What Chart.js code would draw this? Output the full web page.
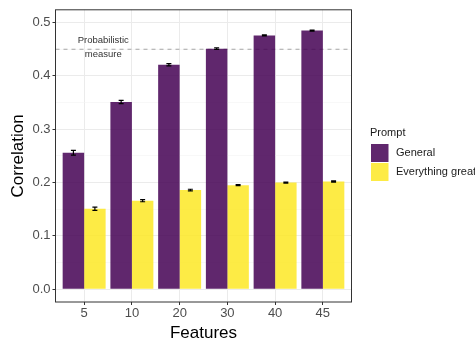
<!DOCTYPE html>
<html>
<head>
<meta charset="utf-8">
<script src="https://cdn.jsdelivr.net/npm/chart.js@4"></script>
<style>
  html, body { margin: 0; padding: 0; background: #fff; }
  #wrap { width: 475px; height: 342px; }
</style>
</head>
<body>
<div id="wrap"><canvas id="chart-canvas" width="475" height="342"></canvas></div>
<script>
const features = ["5", "10", "20", "30", "40", "45"];
const general = [0.256, 0.351, 0.421, 0.451, 0.476, 0.485];
const generalErr = [0.0045, 0.003, 0.002, 0.0015, 0.001, 0.001];
const great = [0.151, 0.166, 0.186, 0.195, 0.200, 0.202];
const greatErr = [0.003, 0.002, 0.0015, 0.001, 0.001, 0.001];
const yTicks = [0, 0.05, 0.1, 0.15, 0.2, 0.25, 0.3, 0.35, 0.4, 0.45, 0.5];
const refLine = 0.45;

const FONT = "'Liberation Sans', Arial, sans-serif";
const purple = "rgba(68,1,84,0.85)";
const yellow = "rgba(253,231,37,0.85)";

const toPoints = (arr) => arr.map((v, i) => ({ x: i + 1, y: v }));

// extras: ref line, error bars, panel border, titles, legend
const extras = {
  id: "extras",
  beforeDatasetsDraw(chart) {
    const { ctx, chartArea: a, scales } = chart;
    const y = scales.y.getPixelForValue(refLine);
    ctx.save();
    ctx.strokeStyle = "#a6a6a6";
    ctx.lineWidth = 1;
    ctx.setLineDash([4, 4]);
    ctx.beginPath();
    ctx.moveTo(a.left, y);
    ctx.lineTo(a.right, y);
    ctx.stroke();
    ctx.restore();
  },
  afterDatasetsDraw(chart) {
    const { ctx, chartArea: a, scales } = chart;
    const errs = [generalErr, greatErr];
    const vals = [general, great];
    ctx.save();
    ctx.strokeStyle = "#000";
    ctx.lineWidth = 1.2;
    [0, 1].forEach((d) => {
      const meta = chart.getDatasetMeta(d);
      meta.data.forEach((bar, i) => {
        const top = scales.y.getPixelForValue(vals[d][i] + errs[d][i]);
        const bot = scales.y.getPixelForValue(vals[d][i] - errs[d][i]);
        ctx.beginPath();
        ctx.moveTo(bar.x, top); ctx.lineTo(bar.x, bot);
        ctx.moveTo(bar.x - 2.5, top); ctx.lineTo(bar.x + 2.5, top);
        ctx.moveTo(bar.x - 2.5, bot); ctx.lineTo(bar.x + 2.5, bot);
        ctx.stroke();
      });
    });

    // annotation
    ctx.fillStyle = "#333";
    ctx.font = "9.5px " + FONT;
    ctx.textAlign = "center";
    ctx.textBaseline = "middle";
    const ax = scales.x.getPixelForValue(1.4);
    ctx.fillText("Probabilistic", ax, 40);
    ctx.fillText("measure", ax, 54);

    // panel border
    ctx.strokeStyle = "#333";
    ctx.lineWidth = 1;
    ctx.strokeRect(a.left, a.top, a.right - a.left, a.bottom - a.top);

    // axis titles
    ctx.fillStyle = "#000";
    ctx.font = "17px " + FONT;
    ctx.textBaseline = "alphabetic";
    ctx.fillText("Features", (a.left + a.right) / 2, 338);
    ctx.save();
    ctx.translate(23, (a.top + a.bottom) / 2);
    ctx.rotate(-Math.PI / 2);
    ctx.fillText("Correlation", 0, 0);
    ctx.restore();

    // legend
    ctx.textAlign = "left";
    ctx.textBaseline = "middle";
    ctx.font = "11px " + FONT;
    ctx.fillStyle = "#1a1a1a";
    ctx.fillText("Prompt", 370, 133);
    ctx.fillStyle = purple;
    ctx.fillRect(371, 144, 17.5, 18);
    ctx.fillStyle = yellow;
    ctx.fillRect(371, 163, 17.5, 18);
    ctx.fillStyle = "#1a1a1a";
    ctx.fillText("General", 396, 153);
    ctx.fillText("Everything great", 396, 172);
    ctx.restore();
  },
};

const ctx = document.getElementById("chart-canvas");

new Chart(ctx, {
  type: "bar",
  data: {
    datasets: [
      { label: "General", data: toPoints(general), backgroundColor: purple },
      { label: "Everything great", data: toPoints(great), backgroundColor: yellow },
    ],
  },
  options: {
    responsive: false,
    animation: false,
    events: [],
    categoryPercentage: 0.9,
    barPercentage: 1.0,
    layout: { padding: { left: 0, right: 123.5, top: 6.5, bottom: 0 } },
    plugins: { legend: { display: false }, tooltip: { enabled: false } },
    scales: {
      x: {
        type: "linear",
        offset: false,
        min: 0.4,
        max: 6.6,
        afterBuildTicks: (s) => { s.ticks = features.map((f, i) => ({ value: i + 1 })); },
        afterFit: (s) => { s.height = 40; },
        ticks: {
          callback: (v) => features[v - 1],
          color: "#4d4d4d",
          font: { family: FONT, size: 13 },
          padding: 1,
          maxRotation: 0,
        },
        grid: { offset: false, color: "#ebebeb", tickColor: "#333", tickLength: 3, lineWidth: 1 },
        border: { display: false },
      },
      y: {
        min: -0.024,
        max: 0.524,
        afterBuildTicks: (s) => { s.ticks = yTicks.map((v) => ({ value: v })); },
        afterFit: (s) => { s.width = 55.5; },
        ticks: {
          callback: (v, i) => (i % 2 === 0 ? v.toFixed(1) : ""),
          color: "#4d4d4d",
          font: { family: FONT, size: 13 },
          padding: 2,
        },
        grid: {
          color: (c) => (c.index % 2 === 0 ? "#ebebeb" : "#f4f4f4"),
          lineWidth: (c) => (c.index % 2 === 0 ? 1 : 0.6),
          tickColor: (c) => (c.index % 2 === 0 ? "#333" : "rgba(0,0,0,0)"),
          tickLength: 3,
        },
        border: { display: false },
      },
    },
  },
  plugins: [extras],
});
</script>
</body>
</html>
